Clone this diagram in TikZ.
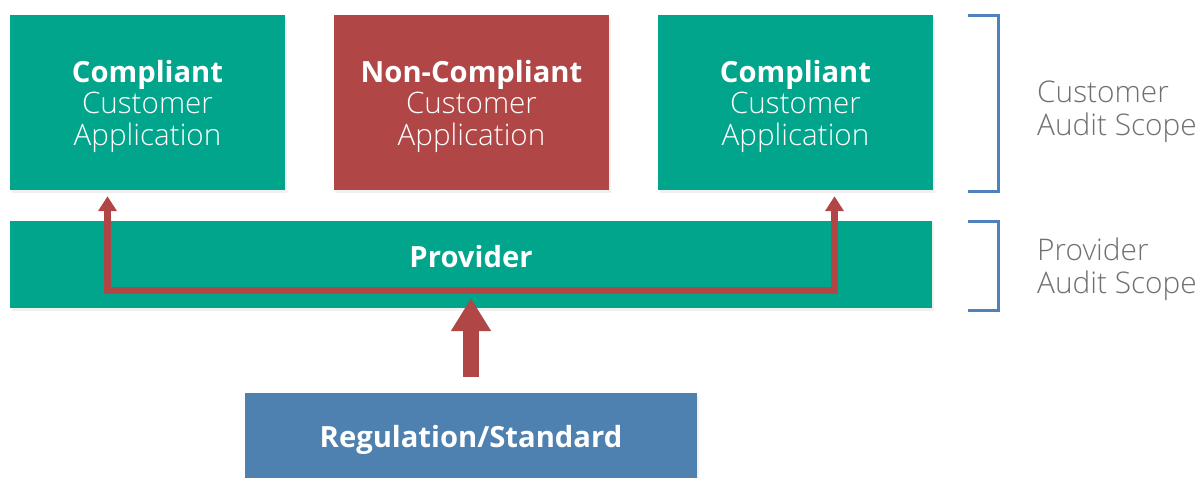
\documentclass[tikz,border=0pt]{standalone}
\usepackage{fontspec}
\setmainfont{Open Sans}
\newfontfamily\lightfont{Open Sans Light}
\usetikzlibrary{arrows.meta,shadows}
\definecolor{cgreen}{HTML}{00A58B}
\definecolor{cred}{HTML}{B04646}
\definecolor{cblue}{HTML}{4F81B0}
\definecolor{cbrack}{HTML}{4F81BD}
\definecolor{cgray}{HTML}{707070}
\newcommand{\apptext}[1]{\raisebox{-5pt}[\height][\depth]{\begin{tabular}{@{}c@{}}\bfseries #1\\
  {\lightfont\fontsize{29.6}{31.5}\selectfont Customer}\\
  {\lightfont\fontsize{29.6}{31.5}\selectfont Application}\end{tabular}}}
\begin{document}
\begin{tikzpicture}[x=1pt,y=-1pt,
  box/.style={rectangle, inner sep=0pt, text=white, align=center,
    font=\fontsize{29.2}{31.5}\selectfont,
    drop shadow={shadow xshift=2pt, shadow yshift=-3pt, opacity=0.12}},
  gbox/.style={box, fill=cgreen},
  rbox/.style={box, fill=cred},
  bbox/.style={box, fill=cblue},
  redarrow/.style={draw=cred, line width=7pt, -{Triangle[width=18pt,length=15pt]}},
  bigarrow/.style={draw=cred, line width=16pt, -{Triangle[width=38pt,length=33pt]}},
  bracket/.style={draw=cbrack, line width=3pt},
  scopelabel/.style={anchor=west, align=left, text=cgray, inner sep=0pt,
    font=\lightfont\fontsize{29.8}{33}\selectfont}]
\useasboundingbox (0,0) rectangle (1202,477);

\node[gbox, minimum width=275pt, minimum height=175pt] (c1) at (147.5,102.5)
  {\apptext{Compliant}};
\node[rbox, minimum width=275pt, minimum height=175pt] (c2) at (471.5,102.5)
  {\apptext{Non-Compliant}};
\node[gbox, minimum width=275pt, minimum height=175pt] (c3) at (795.5,102.5)
  {\apptext{Compliant}};

\node[gbox, minimum width=922pt, minimum height=87pt] (prov) at (471,264.5)
  {\raisebox{7.5pt}[\height][\depth]{\bfseries Provider}};

\node[bbox, minimum width=452pt, minimum height=88pt] (reg) at (471,437)
  {\raisebox{-3pt}[\height][\depth]{\bfseries Regulation/Standard}};

\coordinate (j) at (471,290);
\draw[redarrow] (j) -| ([xshift=-40pt,yshift=-6pt]c1.south);
\draw[redarrow] (j) -| ([xshift=39pt,yshift=-6pt]c3.south);
\draw[bigarrow] ([yshift=16pt]reg.north) -- ([yshift=10pt]prov.south);

\draw[bracket] (968,15) -- (998,15) -- (998,191) -- (968,191);
\draw[bracket] (968,221) -- (998,221) -- (998,310) -- (968,310);

\node[scopelabel] (s1) at (1037,112) {Customer\\Audit Scope};
\node[scopelabel] (s2) at (1037,269) {Provider\\Audit Scope};
\end{tikzpicture}
\end{document}
